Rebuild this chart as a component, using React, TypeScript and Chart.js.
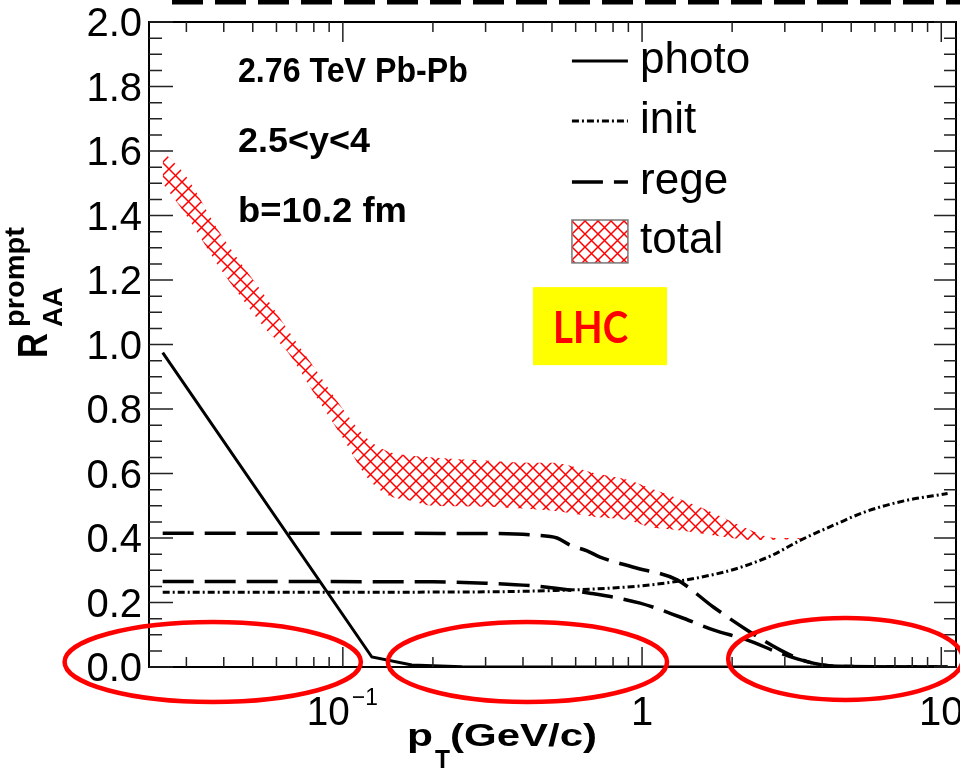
import React, { useEffect, useRef } from "react";
import { Chart, registerables } from "chart.js";
Chart.register(...registerables);

// ---------- axis ranges & ticks ----------
const X_MIN = 0.0225;
const X_MAX = 11.2;
const Y_MIN = 0;
const Y_MAX = 2;
const yTickValues = [0, 0.2, 0.4, 0.6, 0.8, 1.0, 1.2, 1.4, 1.6, 1.8, 2.0];
const yTickLabels = ["0.0", "0.2", "0.4", "0.6", "0.8", "1.0", "1.2", "1.4", "1.6", "1.8", "2.0"];
const xTickValues = [0.1, 1, 10];
const xTickBase = ["10", "1", "10"];
const xTickExp = ["\u22121", "", ""];

// ---------- series ----------
const photoX = [0.025, 0.125, 0.17, 0.25, 0.5, 10.5];
const photoY = [0.975, 0.031, 0.006, 0.001, 0, 0];

const initX = [0.025, 0.1, 0.3, 0.5, 0.7, 1.0, 1.3, 1.7, 2.1, 2.7, 3.4, 4.5, 5.6, 7.5, 10.5];
const initY = [0.232, 0.232, 0.233, 0.237, 0.242, 0.252, 0.265, 0.285, 0.307, 0.345, 0.394, 0.445, 0.482, 0.515, 0.538];

const regeUpX = [0.025, 0.3, 0.44, 0.52, 0.574, 0.655, 0.724, 0.93, 1.31, 1.73, 2.24, 2.89, 3.3, 3.73, 4.5, 10.5];
const regeUpY = [0.415, 0.414, 0.409, 0.4, 0.378, 0.36, 0.341, 0.31, 0.27, 0.186, 0.115, 0.053, 0.028, 0.012, 0.002, 0];

const regeLoX = [0.025, 0.2, 0.3, 0.45, 0.67, 0.985, 1.34, 1.73, 2.24, 2.89, 3.3, 3.73, 4.5, 10.5];
const regeLoY = [0.265, 0.264, 0.26, 0.25, 0.229, 0.198, 0.155, 0.115, 0.084, 0.043, 0.025, 0.012, 0.002, 0];

const totalX = [0.025, 0.03, 0.038, 0.045, 0.055, 0.065, 0.08, 0.1, 0.12, 0.14, 0.17, 0.2, 0.3, 0.42, 0.5, 0.7, 0.9, 1.06, 1.3, 1.56, 2.0, 2.3, 2.6, 3.0, 3.4];
const totalHigh = [1.6, 1.52, 1.36, 1.26, 1.15, 1.05, 0.93, 0.8, 0.71, 0.67, 0.655, 0.65, 0.64, 0.633, 0.633, 0.6, 0.58, 0.555, 0.525, 0.496, 0.45, 0.425, 0.405, 0.4, 0.4];
const totalLow = [1.5, 1.4, 1.25, 1.155, 1.05, 0.98, 0.85, 0.71, 0.59, 0.535, 0.515, 0.5, 0.497, 0.49, 0.485, 0.465, 0.455, 0.434, 0.425, 0.415, 0.4, 0.394, 0.394, 0.395, 0.398];

// ---------- annotation texts ----------
const infoLines = ["2.76 TeV Pb-Pb", "2.5<y<4", "b=10.2 fm"];
const legendLabels = ["photo", "init", "rege", "total"];
const boxLabel = "LHC";

const FONT = '"Liberation Sans", Arial, Helvetica, sans-serif';
const INIT_DASH = [7, 3, 2, 3];
const REGE_DASH = [31, 11];

const pts = (xs: number[], ys: number[]) => xs.map((x, i) => ({ x, y: ys[i] }));

function drawText(
  ctx: CanvasRenderingContext2D,
  s: string,
  x: number,
  y: number,
  size: number,
  o: { bold?: boolean; align?: CanvasTextAlign; baseline?: CanvasTextBaseline; w?: number; color?: string; family?: string } = {}
) {
  ctx.save();
  ctx.font = `${o.bold ? "bold " : ""}${size}px ${o.family || FONT}`;
  ctx.fillStyle = o.color || "#000";
  ctx.textAlign = o.align || "left";
  ctx.textBaseline = o.baseline || "alphabetic";
  ctx.translate(x, y);
  if (o.w) {
    const m = ctx.measureText(s).width;
    if (m > 0) ctx.scale(o.w / m, 1);
  }
  ctx.fillText(s, 0, 0);
  ctx.restore();
}

function makeHatch(ctx: CanvasRenderingContext2D): CanvasPattern | string {
  const c = document.createElement("canvas");
  c.width = 13;
  c.height = 13;
  const g = c.getContext("2d");
  if (!g) return "rgba(255,0,0,0.4)";
  g.strokeStyle = "#ff0000";
  g.lineWidth = 1.5;
  g.beginPath();
  g.moveTo(-2, -2);
  g.lineTo(15, 15);
  g.moveTo(-2, 15);
  g.lineTo(15, -2);
  g.stroke();
  return ctx.createPattern(c, "repeat") || "rgba(255,0,0,0.4)";
}

export default function App() {
  const ref = useRef<HTMLCanvasElement | null>(null);

  useEffect(() => {
    const canvas = ref.current;
    if (!canvas) return;
    const ctx0 = canvas.getContext("2d")!;
    const hatch = makeHatch(ctx0);

    const overlay = {
      id: "overlay",
      afterDatasetsDraw(chart: any) {
        const { ctx, scales } = chart;
        const xs = scales.x, ys = scales.y;
        // LHC box
        const bx1 = xs.getPixelForValue(0.432), bx2 = xs.getPixelForValue(1.212);
        const by1 = ys.getPixelForValue(1.178), by2 = ys.getPixelForValue(0.936);
        ctx.save();
        ctx.fillStyle = "#ffff00";
        ctx.fillRect(bx1, by1, bx2 - bx1, by2 - by1);
        ctx.restore();
        drawText(ctx, boxLabel, xs.getPixelForValue(0.673), ys.getPixelForValue(1.005), 43, {
          bold: true, align: "center", color: "#ff0000", w: 75, family: "Lato, 'Open Sans', sans-serif",
        });
      },
      afterDraw(chart: any) {
        const { ctx, chartArea: ca, scales } = chart;
        const xs = scales.x, ys = scales.y;
        ctx.save();
        // frame
        ctx.strokeStyle = "#000";
        ctx.lineWidth = 2;
        ctx.strokeRect(ca.left, ca.top, ca.right - ca.left, ca.bottom - ca.top);
        // y ticks (inside, both sides)
        ctx.lineWidth = 1.5;
        ctx.strokeStyle = "#222";
        for (let k = 0; k <= 40; k++) {
          const v = k * 0.05;
          const py = ys.getPixelForValue(v);
          const major = k % 4 === 0;
          ctx.beginPath();
          ctx.moveTo(ca.left, py);
          ctx.lineTo(ca.left + (major ? 24 : 13), py);
          ctx.moveTo(ca.right, py);
          ctx.lineTo(ca.right - (major ? 22 : 12), py);
          ctx.stroke();
        }
        // x ticks (log, inside, both sides)
        for (let d = -2; d <= 1; d++) {
          for (let m = 1; m <= 9; m++) {
            const v = m * Math.pow(10, d);
            if (v < X_MIN || v > X_MAX) continue;
            const px = xs.getPixelForValue(v);
            const len = m === 1 ? 20 : 10;
            ctx.beginPath();
            ctx.moveTo(px, ca.bottom);
            ctx.lineTo(px, ca.bottom - len);
            ctx.moveTo(px, ca.top);
            ctx.lineTo(px, ca.top + len);
            ctx.stroke();
          }
        }
        ctx.restore();

        // y tick labels
        yTickValues.forEach((v, i) => {
          drawText(ctx, yTickLabels[i], ca.left - 7, ys.getPixelForValue(v) + 3, 40, { align: "right", baseline: "middle" });
        });
        // x tick labels
        xTickValues.forEach((v, i) => {
          const px = xs.getPixelForValue(v);
          const base = xTickBase[i];
          const exp = xTickExp[i];
          if (exp) {
            drawText(ctx, base, px - 36, ca.bottom + 58, 40, { w: 43 });
            drawText(ctx, exp, px + 9, ca.bottom + 38, 24, { w: 26 });
          } else {
            drawText(ctx, base, px, ca.bottom + 58, 40, { align: "center" });
          }
        });

        // x axis title p_T(GeV/c)
        drawText(ctx, "p", 407, ca.bottom + 79, 32, { bold: true, w: 26 });
        drawText(ctx, "T", 435, ca.bottom + 101, 25, { bold: true, w: 15 });
        drawText(ctx, "(GeV/c)", 450, ca.bottom + 79, 32, { bold: true, w: 147 });

        // y axis title R_AA^prompt (rotated)
        ctx.save();
        ctx.translate(47, 358);
        ctx.rotate(-Math.PI / 2);
        drawText(ctx, "R", 0, 0, 42, { bold: true, w: 25 });
        drawText(ctx, "AA", 31, 15, 28, { bold: true, w: 40 });
        drawText(ctx, "prompt", 31, -23, 28, { bold: true, w: 100 });
        ctx.restore();

        // info text
        const ix = xs.getPixelForValue(0.0446);
        drawText(ctx, infoLines[0], ix, ys.getPixelForValue(1.814), 35, { bold: true, w: 230 });
        drawText(ctx, infoLines[1], ix, ys.getPixelForValue(1.597), 35, { bold: true, w: 132 });
        drawText(ctx, infoLines[2], ix, ys.getPixelForValue(1.38), 35, { bold: true, w: 169 });

        // legend
        const lx1 = xs.getPixelForValue(0.583), lx2 = xs.getPixelForValue(0.897), tx = xs.getPixelForValue(0.985);
        const rows = [1.879, 1.693, 1.504, 1.321].map((v) => ys.getPixelForValue(v));
        ctx.save();
        ctx.strokeStyle = "#000";
        ctx.lineWidth = 3;
        ctx.beginPath(); ctx.moveTo(lx1, rows[0]); ctx.lineTo(lx2, rows[0]); ctx.stroke();
        ctx.setLineDash(INIT_DASH);
        ctx.beginPath(); ctx.moveTo(lx1, rows[1]); ctx.lineTo(lx2, rows[1]); ctx.stroke();
        ctx.lineWidth = 3.5;
        ctx.setLineDash(REGE_DASH);
        ctx.beginPath(); ctx.moveTo(lx1, rows[2]); ctx.lineTo(lx2, rows[2]); ctx.stroke();
        ctx.setLineDash([]);
        const bt = ys.getPixelForValue(1.386), bb = ys.getPixelForValue(1.253);
        ctx.fillStyle = hatch as any;
        ctx.fillRect(lx1, bt, lx2 - lx1, bb - bt);
        ctx.strokeStyle = "#777";
        ctx.lineWidth = 1.5;
        ctx.strokeRect(lx1, bt, lx2 - lx1, bb - bt);
        ctx.restore();
        legendLabels.forEach((s, i) => drawText(ctx, s, tx, rows[i], 44, { baseline: "middle" }));

        // red ellipses
        const ells = [
          [0.01175, 0.1149, -0.1085, 0.1395],
          [0.1414, 1.212, -0.1085, 0.1395],
          [1.94, 11.8, -0.102, 0.152],
        ];
        ctx.save();
        ctx.strokeStyle = "#ff0000";
        ctx.lineWidth = 4.5;
        ells.forEach(([xa, xb, ya, yb]) => {
          const p1 = xs.getPixelForValue(xa), p2 = xs.getPixelForValue(xb);
          const q1 = ys.getPixelForValue(ya), q2 = ys.getPixelForValue(yb);
          ctx.beginPath();
          ctx.ellipse((p1 + p2) / 2, (q1 + q2) / 2, Math.abs(p2 - p1) / 2, Math.abs(q1 - q2) / 2, 0, 0, Math.PI * 2);
          ctx.stroke();
        });
        ctx.restore();

        // dashed border remnant at top of picture
        ctx.save();
        ctx.strokeStyle = "#000";
        ctx.lineWidth = 5;
        ctx.setLineDash([31, 12]);
        ctx.beginPath();
        ctx.moveTo(172, 2);
        ctx.lineTo(960, 2);
        ctx.stroke();
        ctx.restore();
      },
    };

    const chart = new Chart(canvas, {
      type: "line",
      data: {
        datasets: [
          {
            label: "total-high",
            data: pts(totalX, totalHigh),
            borderWidth: 0,
            borderColor: "rgba(0,0,0,0)",
            backgroundColor: hatch as any,
            fill: "+1",
            cubicInterpolationMode: "monotone",
          },
          {
            label: "total-low",
            data: pts(totalX, totalLow),
            borderWidth: 0,
            borderColor: "rgba(0,0,0,0)",
            fill: false,
            cubicInterpolationMode: "monotone",
          },
          {
            label: "photo",
            data: pts(photoX, photoY),
            borderColor: "#000",
            borderWidth: 3,
            fill: false,
            tension: 0,
          },
          {
            label: "init",
            data: pts(initX, initY),
            borderColor: "#000",
            borderWidth: 3,
            borderDash: INIT_DASH,
            fill: false,
            cubicInterpolationMode: "monotone",
          },
          {
            label: "rege",
            data: pts(regeUpX, regeUpY),
            borderColor: "#000",
            borderWidth: 3.5,
            borderDash: REGE_DASH,
            fill: false,
            cubicInterpolationMode: "monotone",
          },
          {
            label: "rege2",
            data: pts(regeLoX, regeLoY),
            borderColor: "#000",
            borderWidth: 3.5,
            borderDash: REGE_DASH,
            fill: false,
            cubicInterpolationMode: "monotone",
          },
        ],
      },
      options: {
        animation: false,
        responsive: false,
        maintainAspectRatio: false,
        layout: { padding: { left: 149, top: 22, right: 4, bottom: 104 } },
        elements: { point: { radius: 0, hoverRadius: 0 } },
        scales: {
          x: { type: "logarithmic", min: X_MIN, max: X_MAX, display: false },
          y: { type: "linear", min: Y_MIN, max: Y_MAX, display: false },
        },
        plugins: { legend: { display: false }, tooltip: { enabled: false } },
        events: [],
      },
      plugins: [overlay],
    });
    return () => chart.destroy();
  }, []);

  return (
    <div style={{ position: "absolute", left: 0, top: 0, width: 960, height: 771, background: "#fff" }}>
      <canvas ref={ref} width={960} height={771} style={{ display: "block", width: 960, height: 771 }} />
    </div>
  );
}
